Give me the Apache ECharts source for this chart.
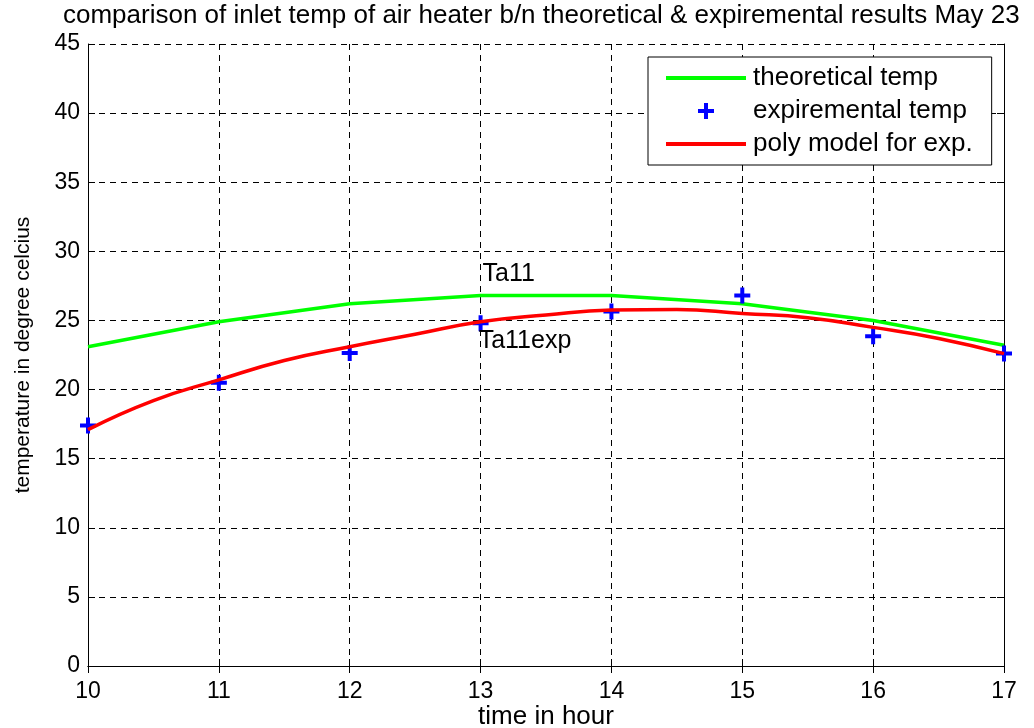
<!DOCTYPE html>
<html>
<head>
<meta charset="utf-8">
<script src="https://cdn.jsdelivr.net/npm/echarts@6/dist/echarts.min.js"></script>
<style>
html,body{margin:0;padding:0;background:#fff;}
#chart{width:1034px;height:728px;}
</style>
</head>
<body>
<div id="chart"></div>
<script>
const hours = [10, 11, 12, 13, 14, 15, 16, 17];
const theoreticalTemp = [23.1, 24.9, 26.2, 26.8, 26.8, 26.2, 25.0, 23.2];
const experimentalTemp = [17.4, 20.5, 22.65, 24.8, 25.65, 26.8, 23.85, 22.6];
const polyHours = [10, 10.5, 11, 11.5, 12, 12.5, 13, 13.5, 14, 14.5, 15, 15.5, 16, 16.5, 17];
const polyTemp = [17.1, 19.2, 20.7, 22.1, 23.1, 24.0, 24.9, 25.4, 25.75, 25.8, 25.5, 25.2, 24.5, 23.7, 22.6];
const annotations = [
  {text: 'Ta11', x: 13, y: 28.35},
  {text: 'Ta11exp', x: 12.97, y: 23.5}
];
const xTicks = {min: 10, max: 17, interval: 1};
const yTicks = {min: 0, max: 45, interval: 5};

const FONT = 'Liberation Sans';
const plusPath = 'path://M0,6L6,6L6,0L10,0L10,6L16,6L16,10L10,10L10,16L6,16L6,10L0,10Z';

const chart = echarts.init(document.getElementById('chart'));
const baseAxisLine = {show: true, lineStyle: {color: '#000', width: 1}};
const tickIn = {show: true, inside: true, length: 7, lineStyle: {color: '#000'}};
chart.setOption({
  backgroundColor: '#fff',
  animation: false,
  title: {
    text: 'comparison of inlet temp of air heater b/n theoretical & expiremental results May 23',
    left: 63, top: 3, padding: 0,
    textStyle: {fontFamily: FONT, fontSize: 26, fontWeight: 'normal', color: '#000'}
  },
  legend: {
    data: [
      {name: 'theoretical temp', itemStyle: {opacity: 0}, lineStyle: {width: 4}},
      {name: 'expiremental temp', icon: plusPath, itemStyle: {color: '#0000ff', opacity: 1}},
      {name: 'poly model for exp.', itemStyle: {opacity: 0}, lineStyle: {width: 4}}
    ],
    orient: 'vertical',
    left: 648, top: 57,
    padding: [8, 19, 8, 16],
    itemWidth: 80, itemHeight: 16, itemGap: 7,
    borderColor: '#000', borderWidth: 1, borderRadius: 0,
    backgroundColor: '#fff',
    textStyle: {fontFamily: FONT, fontSize: 26, color: '#000', padding: [0, 0, 0, 2]}
  },
  grid: {left: 88, right: 30, top: 44, bottom: 62, containLabel: false, outerBoundsMode: 'none'},
  xAxis: [{
    type: 'value', min: xTicks.min, max: xTicks.max, interval: xTicks.interval,
    name: 'time in hour', nameLocation: 'middle', nameGap: 38, nameMoveOverlap: false,
    nameTextStyle: {fontFamily: FONT, fontSize: 26, color: '#000', verticalAlign: 'top'},
    axisLine: baseAxisLine, axisTick: tickIn,
    axisLabel: {fontFamily: FONT, fontSize: 23, color: '#000', margin: 14},
    splitLine: {show: true, lineStyle: {color: '#000', type: [6, 5], width: 1}}
  }, {
    type: 'value', position: 'top', min: xTicks.min, max: xTicks.max, interval: xTicks.interval,
    axisLine: baseAxisLine, axisTick: tickIn, axisLabel: {show: false}, splitLine: {show: false}
  }],
  yAxis: [{
    type: 'value', min: yTicks.min, max: yTicks.max, interval: yTicks.interval,
    name: 'temperature in degree celcius', nameLocation: 'middle', nameGap: 54,
    nameTextStyle: {fontFamily: FONT, fontSize: 21, color: '#000'},
    axisLine: baseAxisLine, axisTick: tickIn,
    axisLabel: {fontFamily: FONT, fontSize: 23, color: '#000', margin: 8},
    splitLine: {show: true, lineStyle: {color: '#000', type: [6, 5], width: 1}}
  }, {
    type: 'value', position: 'right', min: yTicks.min, max: yTicks.max, interval: yTicks.interval,
    axisLine: baseAxisLine, axisTick: tickIn, axisLabel: {show: false}, splitLine: {show: false}
  }],
  series: [
    {
      name: 'theoretical temp', type: 'line',
      data: hours.map((h, i) => [h, theoreticalTemp[i]]),
      showSymbol: false, symbol: 'none',
      lineStyle: {color: '#00ff00', width: 3.5},
      itemStyle: {color: '#00ff00'}, z: 3
    },
    {
      name: 'expiremental temp', type: 'scatter',
      data: hours.map((h, i) => [h, experimentalTemp[i]]),
      symbol: plusPath, symbolSize: 16,
      itemStyle: {color: '#0000ff', opacity: 1}, z: 4
    },
    {
      name: 'poly model for exp.', type: 'line',
      data: polyHours.map((h, i) => [h, polyTemp[i]]),
      showSymbol: false, symbol: 'none', smooth: true,
      lineStyle: {color: '#ff0000', width: 3.5},
      itemStyle: {color: '#ff0000'}, z: 5
    },
    {
      name: 'labels', type: 'scatter', symbolSize: 0, silent: true,
      itemStyle: {opacity: 1},
      data: annotations.map(a => ({value: [a.x, a.y], text: a.text})),
      label: {
        show: true, position: 'right', distance: 2,
        formatter: p => p.data.text,
        fontFamily: FONT, fontSize: 25, color: '#000', opacity: 1
      }, z: 6
    }
  ]
});
</script>
</body>
</html>
